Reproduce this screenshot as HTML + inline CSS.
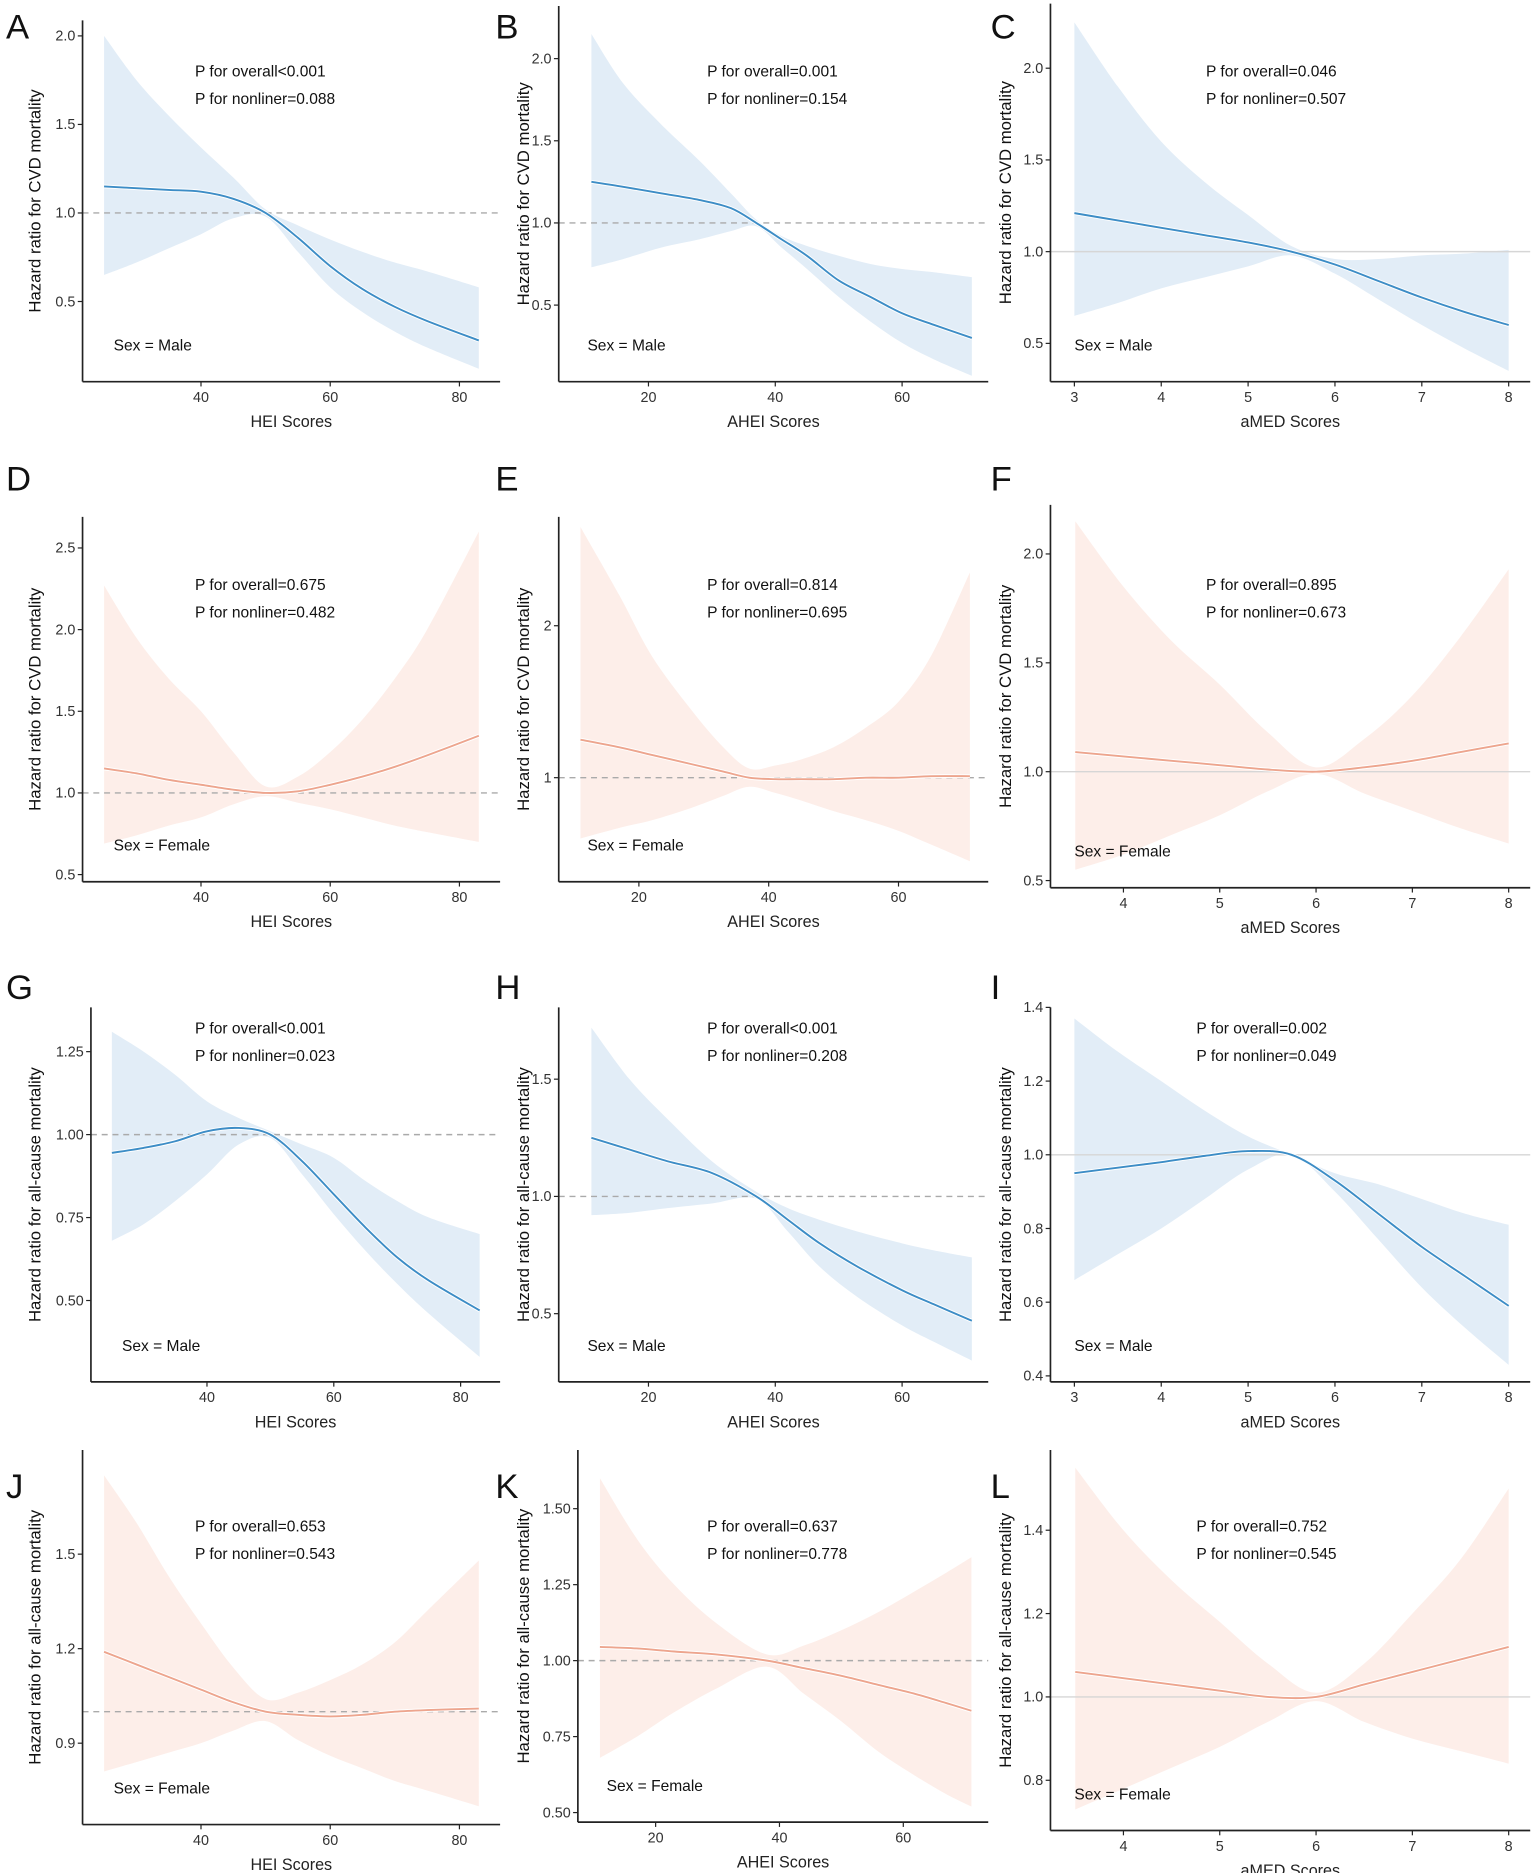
<!DOCTYPE html>
<html><head><meta charset="utf-8"><style>
html,body{margin:0;padding:0;background:#fff;}
svg{display:block;font-family:"Liberation Sans",Arial,sans-serif;}
</style></head><body>
<svg id="fig" width="1535" height="1873" viewBox="0 0 1283 1565.5" xmlns="http://www.w3.org/2000/svg"></svg>
<script>
// ---- data (x values, fitted HR, upper CI, lower CI) ----
const xA=[25,30,35,40,45,50,55,60,65,70,75,83];
const lineA=[1.15,1.14,1.13,1.12,1.08,1.0,0.86,0.7,0.57,0.47,0.39,0.28];
const upA=[2.0,1.75,1.55,1.37,1.2,1.02,0.93,0.85,0.78,0.72,0.67,0.58];
const loA=[0.65,0.72,0.8,0.88,0.97,0.98,0.78,0.58,0.44,0.33,0.24,0.12];

const xB=[11,16,22,28,33,37,41,45,50,55,60,65,71];
const lineB=[1.25,1.22,1.18,1.14,1.09,1.0,0.9,0.8,0.65,0.55,0.45,0.38,0.3];
const upB=[2.15,1.85,1.6,1.38,1.18,1.02,0.92,0.86,0.8,0.75,0.72,0.7,0.67];
const loB=[0.73,0.78,0.85,0.9,0.95,0.98,0.85,0.72,0.55,0.4,0.27,0.17,0.07];

const xC=[3,3.5,4,4.5,5,5.5,6,6.5,7,7.5,8];
const lineC=[1.21,1.17,1.13,1.09,1.05,1.0,0.93,0.84,0.75,0.67,0.6];
const upC=[2.25,1.9,1.6,1.38,1.2,1.03,0.96,0.96,0.98,0.99,1.01];
const loC=[0.65,0.72,0.8,0.86,0.92,0.98,0.88,0.74,0.6,0.47,0.35];

const xD=[25,30,35,40,45,50,55,60,65,70,75,83];
const lineD=[1.15,1.12,1.08,1.05,1.02,1.0,1.01,1.05,1.1,1.16,1.23,1.35];
const upD=[2.27,1.95,1.7,1.5,1.25,1.04,1.1,1.25,1.45,1.7,2.0,2.6];
const loD=[0.69,0.74,0.8,0.85,0.93,0.98,0.94,0.9,0.85,0.8,0.76,0.7];

const xE=[11,17,22,28,33,37,41,45,50,55,60,65,71];
const lineE=[1.25,1.2,1.15,1.09,1.04,1.0,0.99,0.99,0.99,1.0,1.0,1.01,1.01];
const upE=[2.65,2.2,1.8,1.45,1.2,1.06,1.08,1.12,1.2,1.33,1.5,1.8,2.35];
const loE=[0.6,0.67,0.72,0.8,0.88,0.94,0.9,0.85,0.78,0.72,0.65,0.56,0.45];

const xF=[3.5,4,4.5,5,5.5,6,6.5,7,7.5,8];
const lineF=[1.09,1.07,1.05,1.03,1.01,1.0,1.02,1.05,1.09,1.13];
const upF=[2.15,1.85,1.6,1.4,1.18,1.02,1.15,1.35,1.62,1.93];
const loF=[0.55,0.62,0.71,0.8,0.91,0.99,0.9,0.82,0.74,0.67];

const xG=[25,30,35,40,45,50,55,60,65,70,75,83];
const lineG=[0.945,0.96,0.98,1.01,1.02,1.0,0.92,0.82,0.72,0.63,0.56,0.47];
const upG=[1.31,1.25,1.18,1.1,1.05,1.01,0.97,0.93,0.86,0.8,0.75,0.7];
const loG=[0.68,0.73,0.8,0.88,0.97,0.99,0.88,0.76,0.65,0.55,0.46,0.33];

const xH=[11,17,23,30,37,42,47,53,60,65,71];
const lineH=[1.25,1.2,1.15,1.1,1.0,0.9,0.8,0.7,0.6,0.54,0.47];
const upH=[1.72,1.5,1.33,1.15,1.02,0.95,0.9,0.85,0.8,0.77,0.74];
const loH=[0.92,0.93,0.95,0.97,0.99,0.85,0.7,0.57,0.45,0.38,0.3];

const xI=[3,3.5,4,4.5,5,5.5,6,6.5,7,7.5,8];
const lineI=[0.95,0.965,0.98,0.997,1.01,1.0,0.93,0.84,0.75,0.67,0.59];
const upI=[1.37,1.28,1.2,1.12,1.05,1.0,0.95,0.92,0.88,0.84,0.81];
const loI=[0.66,0.73,0.8,0.88,0.96,1.0,0.9,0.77,0.64,0.53,0.43];

const xJ=[25,30,35,40,45,50,55,60,65,70,75,83];
const lineJ=[1.19,1.15,1.11,1.07,1.03,1.0,0.99,0.985,0.99,1.0,1.005,1.01];
const upJ=[1.75,1.6,1.43,1.28,1.14,1.04,1.06,1.1,1.15,1.22,1.32,1.48];
const loJ=[0.81,0.84,0.87,0.9,0.94,0.97,0.91,0.86,0.82,0.78,0.75,0.7];

const xK=[11,17,23,30,38,44,50,56,62,67,71];
const lineK=[1.045,1.04,1.03,1.02,1.0,0.975,0.95,0.92,0.89,0.86,0.835];
const upK=[1.6,1.4,1.25,1.12,1.02,1.05,1.1,1.16,1.23,1.29,1.34];
const loK=[0.68,0.75,0.83,0.91,0.98,0.89,0.8,0.7,0.62,0.56,0.52];

const xL=[3.5,4,4.5,5,5.5,6,6.5,7,7.5,8];
const lineL=[1.06,1.045,1.03,1.015,1.0,1.0,1.03,1.06,1.09,1.12];
const upL=[1.55,1.4,1.28,1.18,1.08,1.01,1.08,1.2,1.33,1.5];
const loL=[0.73,0.78,0.83,0.88,0.94,0.99,0.94,0.9,0.87,0.84];

const yTicksA=[2.0,1.5,1.0,0.5], yTicksB=[2.0,1.5,1.0,0.5], yTicksC=[2.0,1.5,1.0,0.5];
const yTicksD=[2.5,2.0,1.5,1.0,0.5], yTicksE=[2,1], yTicksF=[2.0,1.5,1.0,0.5];
const yTicksG=[1.25,1.00,0.75,0.50], yTicksH=[1.5,1.0,0.5], yTicksI=[1.4,1.2,1.0,0.8,0.6,0.4];
const yTicksJ=[1.5,1.2,0.9], yTicksK=[1.50,1.25,1.00,0.75,0.50], yTicksL=[1.4,1.2,1.0,0.8];
const xTicksHEI=[40,60,80], xTicksAHEI=[20,40,60], xTicksMED=[3,4,5,6,7,8], xTicksMED2=[4,5,6,7,8];
const pOverall=["<0.001","=0.001","=0.046","=0.675","=0.814","=0.895","<0.001","<0.001","=0.002","=0.653","=0.637","=0.752"];
const pNonlin=["0.088","0.154","0.507","0.482","0.695","0.673","0.023","0.208","0.049","0.543","0.778","0.545"];

// ---- layout (display units) ----
const colX=[69,467,878], colEnd=[418,826,1279], titleX=[34,442,845];
const rows=[{top:5,bot:319},{top:432,bot:737},{top:842,bot:1155},{top:1212,bot:1525}];
const panels=[
 {L:'A',c:0,r:0,x:xA,y:lineA,u:upA,l:loA,yt:yTicksA,xt:xTicksHEI,xs:[40,168,80,384],ys:[2.0,30,0.5,252],xl:'HEI Scores',yl:'Hazard ratio for CVD mortality',sex:'Male',dash:true,top:17},
 {L:'B',c:1,r:0,x:xB,y:lineB,u:upB,l:loB,yt:yTicksB,xt:xTicksAHEI,xs:[20,542,60,754],ys:[2.0,49,0.5,255],xl:'AHEI Scores',yl:'Hazard ratio for CVD mortality',sex:'Male',dash:true,top:5},
 {L:'C',c:2,r:0,x:xC,y:lineC,u:upC,l:loC,yt:yTicksC,xt:xTicksMED,xs:[3,898,8,1261],ys:[2.0,57,0.5,287],xl:'aMED Scores',yl:'Hazard ratio for CVD mortality',sex:'Male',dash:false,top:3},
 {L:'D',c:0,r:1,x:xD,y:lineD,u:upD,l:loD,yt:yTicksD,xt:xTicksHEI,xs:[40,168,80,384],ys:[2.5,458,0.5,731],xl:'HEI Scores',yl:'Hazard ratio for CVD mortality',sex:'Female',dash:true},
 {L:'E',c:1,r:1,x:xE,y:lineE,u:upE,l:loE,yt:yTicksE,xt:xTicksAHEI,xs:[20,534,60,751],ys:[2,523,1,650],xl:'AHEI Scores',yl:'Hazard ratio for CVD mortality',sex:'Female',dash:true},
 {L:'F',c:2,r:1,x:xF,y:lineF,u:upF,l:loF,yt:yTicksF,xt:xTicksMED2,xs:[4,939,8,1261],ys:[2.0,463,0.5,736],xl:'aMED Scores',yl:'Hazard ratio for CVD mortality',sex:'Female',dash:false,top:422,bot:742},
 {L:'G',c:0,r:2,ax:76,x:xG,y:lineG,u:upG,l:loG,yt:yTicksG,xt:xTicksHEI,xs:[40,173,80,385],ys:[1.25,879,0.5,1087],xl:'HEI Scores',yl:'Hazard ratio for all-cause mortality',sex:'Male',dash:true},
 {L:'H',c:1,r:2,x:xH,y:lineH,u:upH,l:loH,yt:yTicksH,xt:xTicksAHEI,xs:[20,542,60,754],ys:[1.5,902,0.5,1098],xl:'AHEI Scores',yl:'Hazard ratio for all-cause mortality',sex:'Male',dash:true},
 {L:'I',c:2,r:2,x:xI,y:lineI,u:upI,l:loI,yt:yTicksI,xt:xTicksMED,xs:[3,898,8,1261],ys:[1.4,842,0.4,1150],xl:'aMED Scores',yl:'Hazard ratio for all-cause mortality',sex:'Male',dash:false,bot:1155},
 {L:'J',c:0,r:3,x:xJ,y:lineJ,u:upJ,l:loJ,yt:yTicksJ,xt:xTicksHEI,xs:[40,168,80,384],ys:[1.5,1299,0.9,1457],xl:'HEI Scores',yl:'Hazard ratio for all-cause mortality',sex:'Female',dash:true},
 {L:'K',c:1,r:3,ax:483,x:xK,y:lineK,u:upK,l:loK,yt:yTicksK,xt:xTicksAHEI,xs:[20,548,60,755],ys:[1.5,1261,0.5,1515],xl:'AHEI Scores',yl:'Hazard ratio for all-cause mortality',sex:'Female',dash:true,bot:1523},
 {L:'L',c:2,r:3,x:xL,y:lineL,u:upL,l:loL,yt:yTicksL,xt:xTicksMED2,xs:[4,939,8,1261],ys:[1.4,1279,0.8,1488],xl:'aMED Scores',yl:'Hazard ratio for all-cause mortality',sex:'Female',dash:false,bot:1530}
];
const annY=[64,493,864,1280];
const annX=[163,591,1008];
const NS='http://www.w3.org/2000/svg';
const svg=document.getElementById('fig');
function mk(tag,attrs,parent){const e=document.createElementNS(NS,tag);for(const k in attrs)e.setAttribute(k,attrs[k]);(parent||svg).appendChild(e);return e;}
function smooth(pts){
  let d='M'+pts[0][0].toFixed(2)+','+pts[0][1].toFixed(2);
  for(let i=0;i<pts.length-1;i++){
    const p0=pts[Math.max(0,i-1)],p1=pts[i],p2=pts[i+1],p3=pts[Math.min(pts.length-1,i+2)];
    const c1=[p1[0]+(p2[0]-p0[0])/6,p1[1]+(p2[1]-p0[1])/6];
    const c2=[p2[0]-(p3[0]-p1[0])/6,p2[1]-(p3[1]-p1[1])/6];
    d+=' C'+c1[0].toFixed(2)+','+c1[1].toFixed(2)+' '+c2[0].toFixed(2)+','+c2[1].toFixed(2)+' '+p2[0].toFixed(2)+','+p2[1].toFixed(2);
  }
  return d;
}
function bandPath(pu,pl){
  let d=smooth(pu);
  const rl=pl.slice().reverse();
  d+=' L'+rl[0][0].toFixed(2)+','+rl[0][1].toFixed(2)+smooth(rl).replace(/^M[^ ]+/,'');
  return d+' Z';
}
panels.forEach((p,idx)=>{
  const g=mk('g',{});
  
  
  const ax=p.ax!==undefined?p.ax:colX[p.c], axEnd=colEnd[p.c];
  const top=p.top!==undefined?p.top:rows[p.r].top;
  const bot=p.bot!==undefined?p.bot:rows[p.r].bot;
  const X=v=>p.xs[1]+(v-p.xs[0])*(p.xs[3]-p.xs[1])/(p.xs[2]-p.xs[0]);
  const Y=v=>p.ys[1]+(v-p.ys[0])*(p.ys[3]-p.ys[1])/(p.ys[2]-p.ys[0]);
  const blue=p.sex==='Male';
  const band=blue?'#e2edf7':'#fdeee9', lc=blue?'#3d8dc6':'#eda58e';
  const cp=mk('clipPath',{id:'cp'+idx},g);
  mk('rect',{x:ax,y:top-20,width:axEnd-ax,height:bot-top+20},cp);
  const pu=p.x.map((v,i)=>[X(v),Y(p.u[i])]), pl=p.x.map((v,i)=>[X(v),Y(p.l[i])]);
  const bp=mk('path',{d:bandPath(pu,pl),fill:band,stroke:'none','clip-path':'url(#cp'+idx+')'},g);
  
  
  const ref=mk('line',{x1:ax,x2:axEnd,y1:Y(1),y2:Y(1),stroke:p.dash?'#aaaaaa':'#d6d6d6','stroke-width':1.2,'stroke-dasharray':p.dash?'5,4':'none'},g);
  
  
  const pts=p.x.map((v,i)=>[X(v),Y(p.y[i])]);
  mk('path',{d:smooth(pts),fill:'none',stroke:'#fff','stroke-width':3.2},g);
  const ln=mk('path',{d:smooth(pts),fill:'none',stroke:lc,'stroke-width':1.6},g);
  
  
  const ya=mk('line',{x1:ax,x2:ax,y1:top,y2:bot,stroke:'#222','stroke-width':1.4},g);
  
  
  const xa=mk('line',{x1:ax,x2:axEnd,y1:bot,y2:bot,stroke:'#222','stroke-width':1.4},g);
  
  
  p.yt.forEach(t=>{
    const y=Y(t);
    mk('line',{x1:ax-4,x2:ax,y1:y,y2:y,stroke:'#222','stroke-width':1},g);
    const tx=mk('text',{x:ax-6,y:y+4,'text-anchor':'end','font-size':12,fill:'#333'},g);
    tx.textContent=(p.yt===yTicksE)?String(t):(p.yt===yTicksG||p.yt===yTicksK)?t.toFixed(2):t.toFixed(1);
    
    
  });
  p.xt.forEach(t=>{
    const x=X(t);
    mk('line',{x1:x,x2:x,y1:bot,y2:bot+4,stroke:'#222','stroke-width':1},g);
    const tx=mk('text',{x:x,y:bot+17,'text-anchor':'middle','font-size':12,fill:'#333'},g);
    tx.textContent=String(t);
    
    
  });
  const xt=mk('text',{x:(ax+axEnd)/2,y:bot+38,'text-anchor':'middle','font-size':13.5,fill:'#222'},g);
  xt.textContent=p.xl;
  
  
  const cy=(top+bot)/2, tx0=titleX[p.c];
  const yt=mk('text',{x:tx0,y:cy,'text-anchor':'middle','font-size':14,fill:'#111',transform:'rotate(-90 '+tx0+' '+cy+')'},g);
  yt.textContent=p.yl;
  
  
  const lx=p.c===0?5:(p.c===1?414:828);
  const ly=p.r===0?32:(p.r===1?410:(p.r===2?835:1252));
  const lt=mk('text',{x:lx,y:ly,'font-size':29,fill:'#111'},g);
  lt.textContent=p.L;
  
  
  const axx=(p.L==='I'||p.L==='L')?1000:annX[p.c];
  const a1=mk('text',{x:axx,y:annY[p.r],'font-size':13,fill:'#111'},g);
  a1.textContent='P for overall'+pOverall[idx];
  
  
  const a2=mk('text',{x:axx,y:annY[p.r]+23,'font-size':13,fill:'#111'},g);
  a2.textContent='P for nonliner='+pNonlin[idx];
  
  
  const sx=mk('text',{x:ax+(p.c===2?20:(p.c===1?24:26)),y:bot-26,'font-size':13,fill:'#111'},g);
  sx.textContent='Sex = '+p.sex;
  
  
});
</script>
</body></html>
